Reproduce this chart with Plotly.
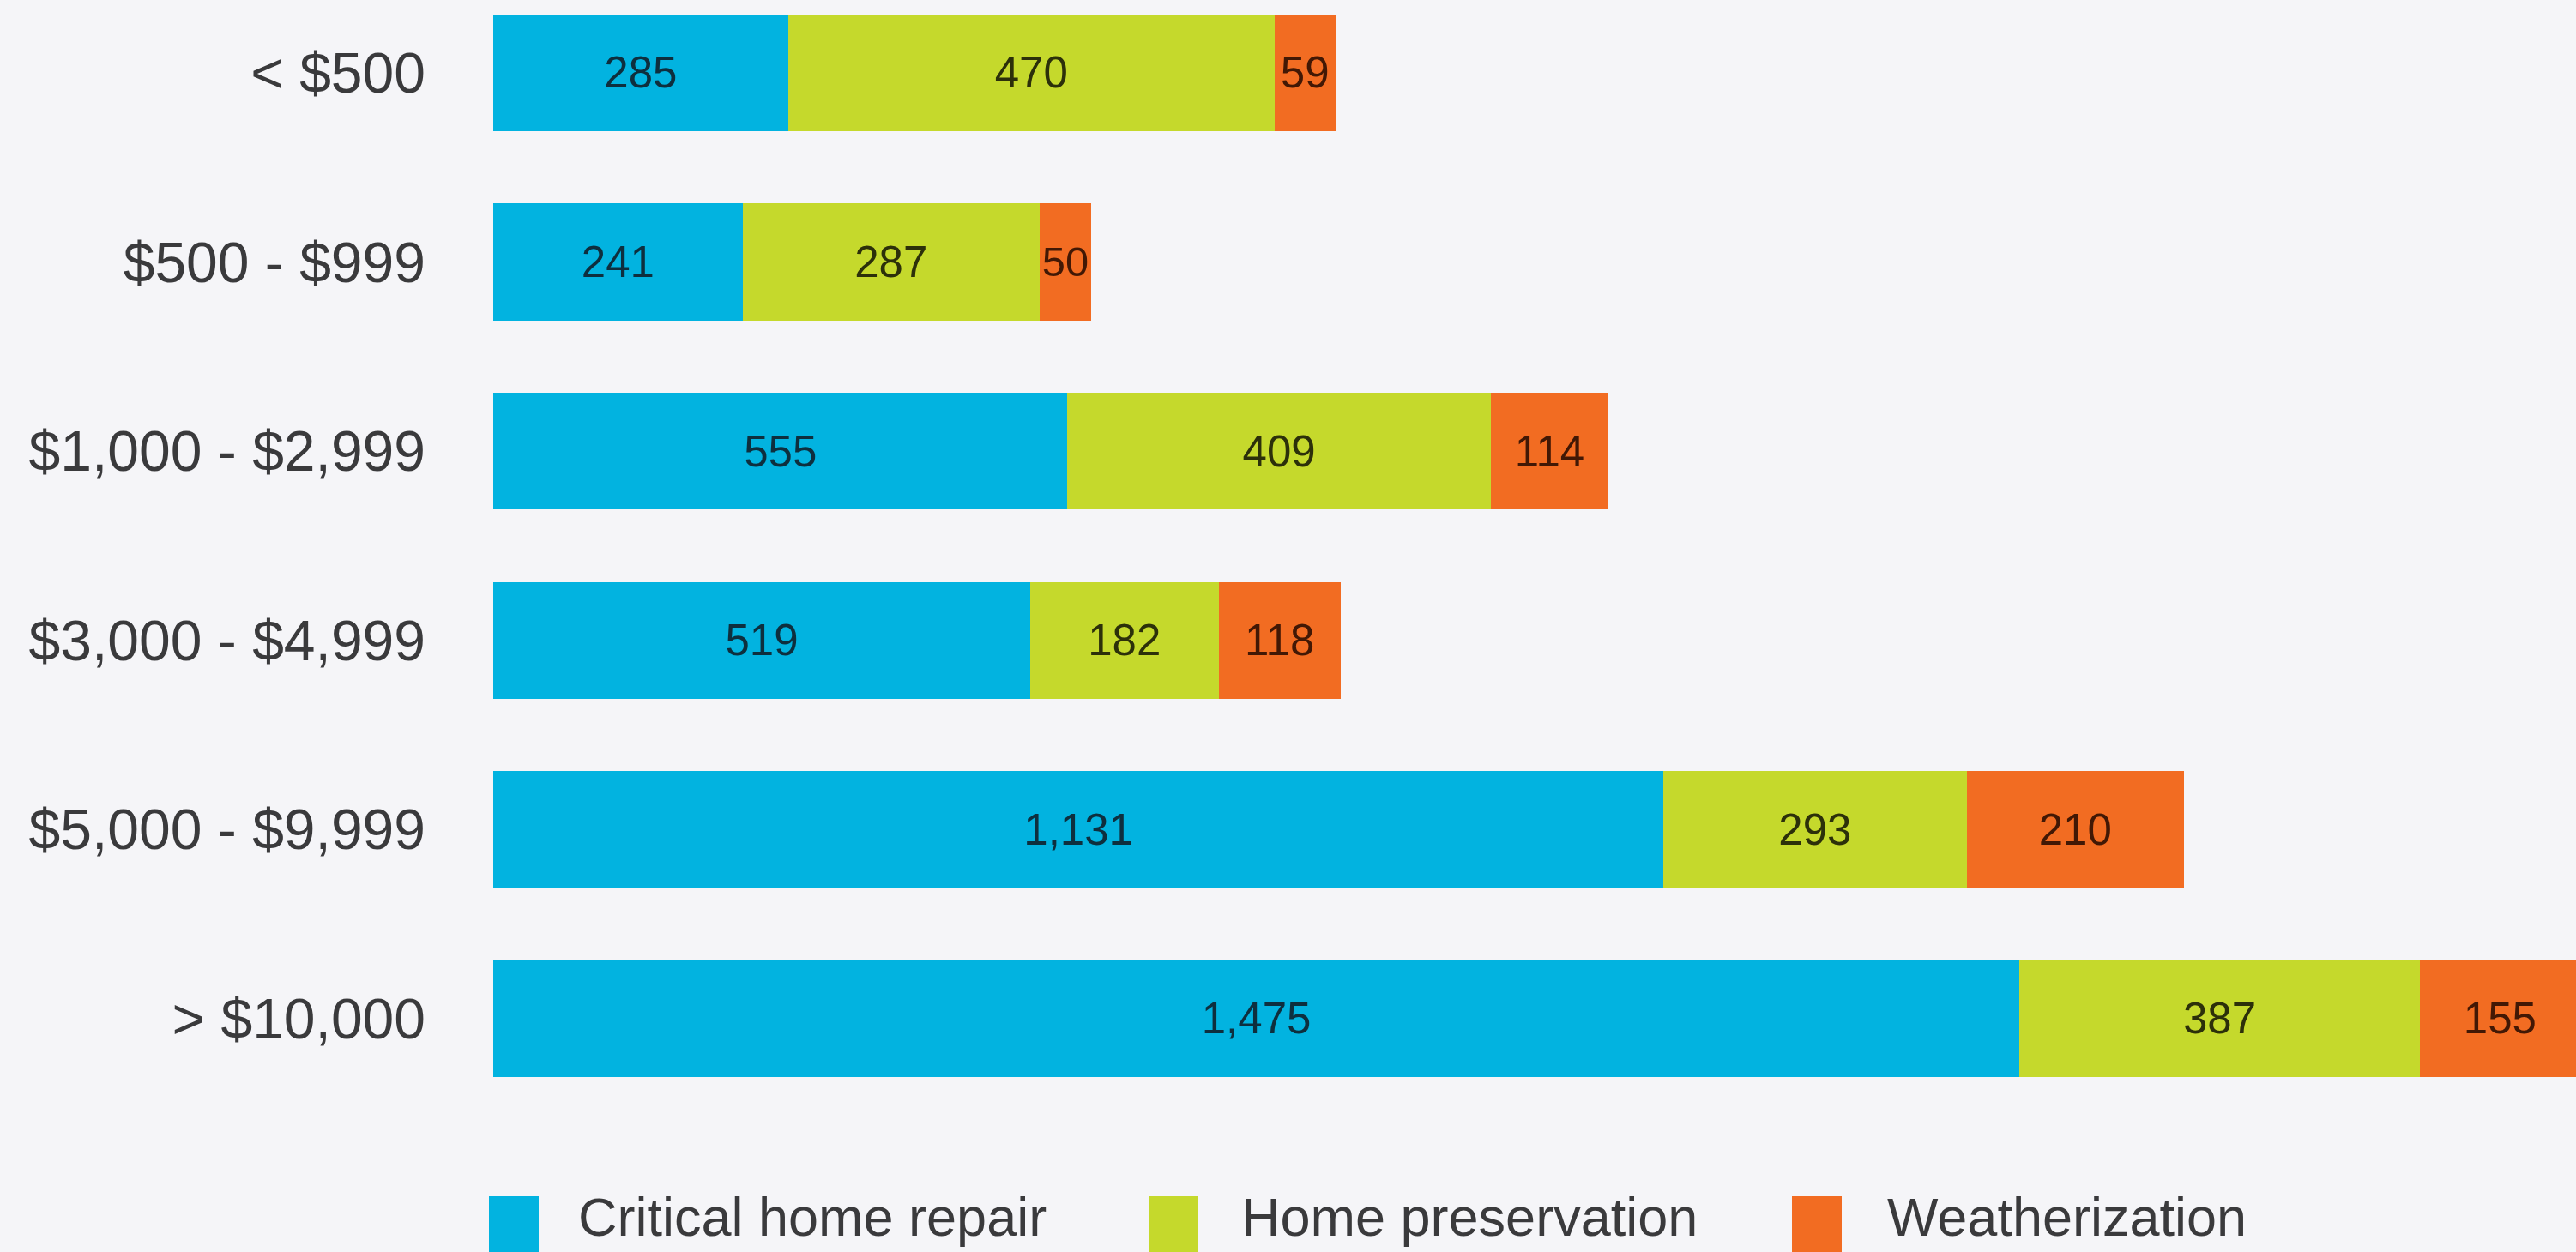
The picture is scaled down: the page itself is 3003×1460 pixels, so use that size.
import plotly.graph_objects as go

# Data
categories = ["< $500", "$500 - $999", "$1,000 - $2,999", "$3,000 - $4,999",
              "$5,000 - $9,999", "> $10,000"]
critical_repair = [285, 241, 555, 519, 1131, 1475]
home_preservation = [470, 287, 409, 182, 293, 387]
weatherization = [59, 50, 114, 118, 210, 155]

series_names = ["Critical home repair", "Home preservation", "Weatherization"]
series_values = [critical_repair, home_preservation, weatherization]
series_colors = ["#02b3e0", "#c5d92c", "#f26c22"]
label_colors = ["#0e2f3e", "#2c300a", "#421805"]

BG = "#f5f5f8"
FONT = "Liberation Sans, Arial, Helvetica, sans-serif"

fig = go.Figure()

for name, vals, color, lab in zip(series_names, series_values, series_colors, label_colors):
    fig.add_bar(
        y=categories,
        x=vals,
        name=name,
        orientation="h",
        marker=dict(color=color, line=dict(width=0)),
        texttemplate="%{x:,}",
        textposition="inside",
        insidetextanchor="middle",
        textfont=dict(family=FONT, size=51, color=lab),
        showlegend=False,
    )

fig.update_layout(
    barmode="stack",
    bargap=0.383,
    width=3003,
    height=1460,
    margin=dict(l=575, r=0, t=0, b=160),
    plot_bgcolor=BG,
    paper_bgcolor=BG,
    font=dict(family=FONT, color="#3a3a3c"),
)

fig.update_xaxes(range=[0, 2013], visible=False)
fig.update_yaxes(
    type="category",
    categoryorder="array",
    categoryarray=categories,
    range=[5.508, -0.385],
    showgrid=False,
    zeroline=False,
    showline=False,
    ticks="",
    ticklabelstandoff=78,
    tickfont=dict(family=FONT, size=66, color="#3a3a3c"),
)

# Legend drawn by hand so the swatches can be as large as in the original
swatch_x = [570, 1339, 2089]
text_x = [673, 1446, 2199]
plot_w = 3003 - 575
plot_h = 1460 - 160
for name, color, sx, tx in zip(series_names, series_colors, swatch_x, text_x):
    fig.add_shape(
        type="rect",
        xref="paper", yref="paper",
        x0=(sx - 575) / plot_w, x1=(sx + 58 - 575) / plot_w,
        y0=(plot_h - 1395) / plot_h, y1=(plot_h - 1470) / plot_h,
        fillcolor=color, line=dict(width=0),
    )
    fig.add_annotation(
        xref="paper", yref="paper",
        x=(tx - 575) / plot_w, y=(plot_h - 1419) / plot_h,
        text=name, showarrow=False, borderpad=0,
        xanchor="left", yanchor="middle",
        font=dict(family=FONT, size=63, color="#3a3a3c"),
    )

# drop the page's default body margin so the figure sits at the corner
fig.write_html(
    "out.html",
    config={"displayModeBar": False},
    post_script="document.body.style.margin='0';document.body.style.background='%s';"
    "document.body.style.overflow='hidden';" % BG,
)
